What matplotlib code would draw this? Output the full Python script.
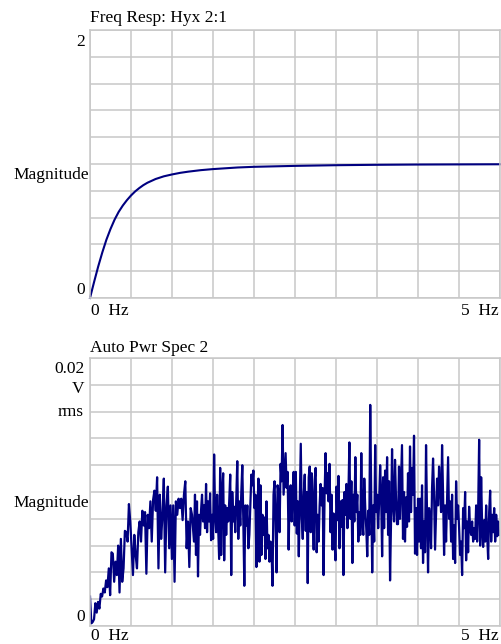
import matplotlib.pyplot as plt
import numpy as np

plt.rcParams['font.family'] = ['Liberation Serif', 'DejaVu Serif']

# Freq Resp: Hyx 2:1  (magnitude)
resp_freq = [0.0, 0.05, 0.1, 0.15, 0.2, 0.25, 0.3, 0.35, 0.4, 0.45, 0.5, 0.55, 0.6, 0.65,
             0.7, 0.8, 0.9, 1.0, 1.1, 1.2, 1.35, 1.5, 1.8, 2.0, 2.5, 3.0, 3.5, 4.0, 4.5, 5.0]
resp_mag = [0.0, 0.12, 0.235, 0.34, 0.435, 0.515, 0.585, 0.643, 0.69, 0.73, 0.765, 0.795,
            0.82, 0.842, 0.86, 0.888, 0.908, 0.922, 0.934, 0.943, 0.954, 0.962, 0.974,
            0.979, 0.986, 0.991, 0.994, 0.996, 0.997, 0.998]

# Auto Pwr Spec 2, in mV rms, read in four stretches of the band
spec_a = [2.2, 0.2, 0.3, 0.5, 1.7, 1.0, 1.8, 1.3, 2.4, 2.2, 2.8, 2.5, 3.4, 2.9, 4.3, 2.3,
          5.5, 5.4, 3.3, 4.8, 3.8, 6.0, 2.5, 6.5, 3.3, 4.3, 7.1, 7.0, 6.3, 9.1, 7.8, 5.8,
          3.8, 6.8, 5.3, 4.3, 7.0, 7.8, 6.3, 8.6, 7.5, 8.5, 3.9, 8.3, 7.3, 9.3, 6.3, 9.4,
          10.1, 8.6, 11.1, 4.3, 9.8, 6.5, 8.3, 11.0, 4.0, 9.0, 10.4, 5.8, 9.0, 5.0, 9.0,
          3.3, 9.3, 8.3, 9.5, 8.8, 9.5, 7.9, 9.8, 10.8, 5.8, 7.8, 4.4, 8.8, 8.3]
spec_b = [6.3, 9.8, 5.3, 9.3, 3.7, 8.3, 6.8, 8.6, 9.8, 7.8, 9.0,
          7.3, 10.6, 7.0, 9.3, 7.8, 9.9, 6.4, 8.3, 6.5, 12.8, 8.3, 7.0, 9.8, 7.4, 5.0,
          11.8, 5.3, 10.0, 11.4, 4.9, 9.0, 6.8, 8.8, 7.8, 9.3, 11.3, 3.8, 10.0, 7.8, 8.9,
          7.0, 9.5, 12.3, 6.5, 9.3, 7.5, 10.0, 12.0, 7.8, 3.0, 9.0, 7.5, 9.0, 5.8, 6.8,
          9.0, 11.3, 10.5, 11.6, 8.8, 9.8, 4.4, 8.5, 11.0, 4.8, 10.5, 5.3, 8.3, 6.8, 8.1,
          5.0, 9.3, 5.8, 6.8, 4.8, 6.3, 5.7, 3.0, 9.8, 10.8, 7.8, 4.0, 10.5, 10.0, 7.0,
          12.1, 10.8, 15.0, 9.8, 11.3, 12.9, 10.3, 11.5, 5.7, 9.8, 10.5, 7.8, 10.0, 11.5, 7.5]
spec_c = [11.5, 6.9, 9.3, 5.2, 9.5, 13.6, 8.1, 6.5, 9.8, 11.3, 7.1, 10.0, 3.2, 11.1,
          11.9, 7.0, 11.4, 9.0, 5.7, 10.9, 11.8, 5.5, 8.3, 6.3, 9.0, 10.6, 9.0, 10.3, 3.8,
          9.8, 12.9, 9.9, 11.4, 9.3, 12.1, 7.0, 9.8, 5.7, 8.4, 6.3, 4.9, 10.4, 7.9, 11.2,
          5.8, 9.3, 7.4, 9.4, 3.8, 10.0, 8.3, 10.6, 7.3, 9.8, 13.7, 8.0, 10.8, 4.7, 9.8,
          7.8, 12.6, 8.5, 9.8, 6.3, 8.5, 6.8, 12.9, 7.8, 6.8, 11.0, 8.8, 7.3, 5.2, 8.6,
          6.8, 16.5, 9.8, 4.0, 9.0, 6.3, 13.5, 8.5, 9.8, 7.3, 9.3, 12.0, 9.8, 5.2, 11.1,
          7.3, 11.6, 8.5, 12.6, 6.8, 10.8, 3.4, 7.9, 13.2, 9.0, 7.8, 12.4, 9.5, 7.6]
spec_d = [7.6, 11.9, 8.0, 10.8, 13.5, 6.5, 10.0, 6.3, 9.6, 7.4, 11.4, 7.8, 13.4, 8.5,
          11.8, 9.8, 14.2, 5.4, 8.8, 5.3, 9.5, 6.3, 9.5, 5.8, 10.5, 4.7, 7.8, 5.5, 13.5,
          8.3, 4.0, 8.8, 8.0, 5.8, 10.3, 12.5, 9.8, 5.7, 8.5, 11.0, 9.0, 11.9, 10.3, 8.5,
          13.5, 9.8, 5.3, 9.0, 6.3, 9.6, 12.6, 8.0, 9.3, 6.3, 9.8, 5.0, 7.5, 4.7, 10.8,
          8.0, 9.0, 7.3, 5.3, 6.3, 3.8, 8.8, 7.3, 10.0, 4.9, 7.8, 5.5, 8.9, 7.3, 6.8, 7.8,
          6.3, 7.3, 6.5, 9.0, 6.3, 8.6, 13.9, 6.0, 11.1, 7.4, 5.9, 7.9, 6.3, 9.0, 6.8, 5.0,
          8.5, 10.1, 6.3, 8.3, 7.0, 8.8, 6.3, 8.3, 6.7, 7.8, 6.8]
spec_bands = [(0.0, 1.244), (1.268, 2.496), (2.51, 3.744), (3.756, 4.99)]

navy = '#000080'
grid_gray = '#c8c8c8'

fig = plt.figure(figsize=(5.01, 6.44), dpi=100)
W, H = 501.0, 644.0
ax1 = fig.add_axes([90 / W, 1 - 298 / H, 410 / W, 268 / H])
ax2 = fig.add_axes([90 / W, 1 - 626 / H, 410 / W, 268 / H])


def dress(ax, ymax):
    ax.set_xlim(0, 5)
    ax.set_ylim(0, ymax)
    ax.set_xticks(np.linspace(0, 5, 11))
    ax.set_yticks(np.linspace(0, ymax, 11))
    ax.tick_params(length=0, labelbottom=False, labelleft=False)
    ax.grid(True, color=grid_gray, lw=1.1)
    ax.set_axisbelow(True)
    for s in ax.spines.values():
        s.set_color(grid_gray)
        s.set_linewidth(1.1)


dress(ax1, 2.0)
ax1.plot(resp_freq, resp_mag, color=navy, lw=1.5, clip_on=False)

spec_mv = []
spec_f = []
for seg, (f0, f1) in zip([spec_a, spec_b, spec_c, spec_d], spec_bands):
    spec_mv += seg
    spec_f += list(np.linspace(f0, f1, len(seg)))
dress(ax2, 0.02)
ax2.plot(spec_f, np.array(spec_mv) / 1000.0, color=navy, lw=1.6)

fs = 12.5


def px_text(x, y, s, **kw):
    fig.text(x / W, 1 - y / H, s, fontsize=fs, **kw)


# top panel labels
px_text(90, 18, 'Freq Resp: Hyx 2:1', ha='left', va='center')
px_text(85, 42, '2', ha='right', va='center')
px_text(85, 290, '0', ha='right', va='center')
px_text(89, 175, 'Magnitude', ha='right', va='center')
px_text(91, 311, '0  Hz', ha='left', va='center')
px_text(499, 311, '5  Hz', ha='right', va='center')

# bottom panel labels
px_text(90, 348, 'Auto Pwr Spec 2', ha='left', va='center')
px_text(85, 369, '0.02', ha='right', va='center')
px_text(84, 389, 'V', ha='right', va='center')
px_text(84, 412, 'rms', ha='right', va='center')
px_text(89, 503, 'Magnitude', ha='right', va='center')
px_text(85, 617, '0', ha='right', va='center')
px_text(91, 636, '0  Hz', ha='left', va='center')
px_text(499, 636, '5  Hz', ha='right', va='center')

fig.savefig('out.png', dpi=100)
